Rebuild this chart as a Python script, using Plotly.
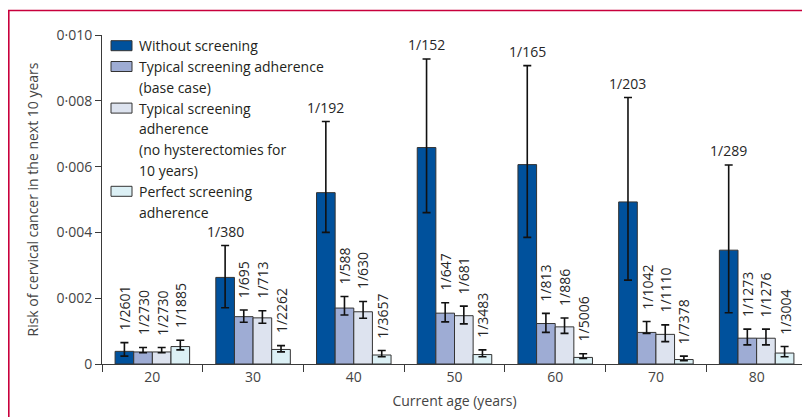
import plotly.graph_objects as go

# ---------------- data ----------------
ages = ["20", "30", "40", "50", "60", "70", "80"]
series_names = [
    "Without screening",
    "Typical screening adherence (base case)",
    "Typical screening adherence (no hysterectomies for 10 years)",
    "Perfect screening adherence",
]
# risk shown as 1/N (labels on the chart)
denom_without = [2601, 380, 192, 152, 165, 203, 289]
denom_base = [2730, 695, 588, 647, 813, 1042, 1273]
denom_nohyst = [2730, 713, 630, 681, 886, 1110, 1276]
denom_perfect = [1885, 2262, 3657, 3483, 5006, 7378, 3004]

# error bar bounds (lower, upper)
low_without = [0.00024, 0.00171, 0.0040, 0.0046, 0.00385, 0.00255, 0.00156]
up_without = [0.00065, 0.0036, 0.00737, 0.00927, 0.00907, 0.0081, 0.00605]
low_base = [0.00034, 0.00127, 0.00149, 0.00128, 0.00096, 0.00093, 0.00058]
up_base = [0.00050, 0.00164, 0.00205, 0.00186, 0.00154, 0.00129, 0.00106]
low_nohyst = [0.00034, 0.00124, 0.00139, 0.00122, 0.00093, 0.00068, 0.00058]
up_nohyst = [0.00050, 0.00162, 0.00190, 0.00176, 0.00140, 0.00119, 0.00106]
low_perfect = [0.00043, 0.00037, 0.00022, 0.00022, 0.00017, 0.00010, 0.00022]
up_perfect = [0.00072, 0.00056, 0.00041, 0.00043, 0.00031, 0.00024, 0.00053]

y_tickvals = [0, 0.002, 0.004, 0.006, 0.008, 0.010]
y_ticktext = ["0", "0·002", "0·004", "0·006", "0·008", "0·010"]

legend_lines = [
    ["Without screening"],
    ["Typical screening adherence", "(base case)"],
    ["Typical screening", "adherence", "(no hysterectomies for", "10 years)"],
    ["Perfect screening", "adherence"],
]

# ---------------- style ----------------
colors = ["#00519c", "#9eacd4", "#dde3ef", "#dcf0f5"]
outline = "#333333"
FONT = "Open Sans"
FS = 14
OFF = 8                      # default body margin of the html page
PL, PR, PT, PB = 102, 807, 35, 364   # plot area in page pixels
W, H = 810 - OFF, 417 - OFF
ML = PL - OFF
MT = PT - OFF
MR = W - (PR - OFF)
MB = H - (PB - OFF)
BARGAP = 0.26

denoms = [denom_without, denom_base, denom_nohyst, denom_perfect]
lows = [low_without, low_base, low_nohyst, low_perfect]
ups = [up_without, up_base, up_nohyst, up_perfect]

fig = go.Figure()
for k in range(4):
    vals = [1.0 / d for d in denoms[k]]
    fig.add_trace(go.Bar(
        x=ages, y=vals, name=series_names[k],
        marker=dict(color=colors[k], line=dict(color=outline, width=1)),
        error_y=dict(type="data", symmetric=False,
                     array=[u - v for u, v in zip(ups[k], vals)],
                     arrayminus=[v - l for l, v in zip(lows[k], vals)],
                     color="#111111", thickness=1.6, width=4),
        showlegend=False,
    ))

# bar value labels
bw = (1 - BARGAP) / 4
offsets = [-1.5 * bw, -0.5 * bw, 0.5 * bw, 1.5 * bw]
for k in range(4):
    for i, d in enumerate(denoms[k]):
        horizontal = (k == 0 and i > 0)
        fig.add_annotation(
            x=i + offsets[k], y=ups[k][i], xref="x", yref="y",
            text=f"1/{d}", showarrow=False,
            textangle=0 if horizontal else -90,
            xanchor="center", yanchor="bottom",
            yshift=3 if horizontal else 10,
            font=dict(family=FONT, size=FS, color="#262626"),
        )

def px_x(px):
    return (px - PL) / (PR - PL)
def px_y(py):
    return (PB - py) / (PB - PT)

# manual legend (page pixel positions)
line_h = 20.8
y0 = 45.7
li = 0
for k, lines in enumerate(legend_lines):
    yc = y0 + li * line_h
    fig.add_shape(type="rect", xref="paper", yref="paper",
                  x0=px_x(111), x1=px_x(132), y0=px_y(yc - 5), y1=px_y(yc + 5),
                  fillcolor=colors[k], line=dict(color=outline, width=1))
    for t in lines:
        yc = y0 + li * line_h
        fig.add_annotation(x=px_x(137), y=px_y(yc), xref="paper", yref="paper",
                           text=t, showarrow=False, xanchor="left", yanchor="middle",
                           font=dict(family=FONT, size=FS, color="#231f20"))
        li += 1

# pink frame
fig.add_shape(type="rect", xref="paper", yref="paper",
              x0=px_x(8.8), x1=px_x(840), y0=px_y(460), y1=px_y(10.5),
              line=dict(color="#c8003c", width=1.6), fillcolor="rgba(0,0,0,0)")

axis_col = "#3a3a3a"
fig.update_layout(
    width=W, height=H, autosize=False,
    margin=dict(l=ML, r=MR, t=MT, b=MB),
    paper_bgcolor="white", plot_bgcolor="white",
    barmode="group", bargap=BARGAP, bargroupgap=0,
    font=dict(family=FONT, size=FS, color="#3c3c3c"),
    xaxis=dict(type="category", showline=True, linecolor=axis_col, linewidth=1,
               ticks="outside", tickson="boundaries", ticklen=7, tickcolor=axis_col,
               tickfont=dict(family=FONT, size=FS, color="#444444"),
               title=dict(text="Current age (years)", standoff=11,
                          font=dict(family=FONT, size=FS, color="#444444")),
               showgrid=False, zeroline=False),
    yaxis=dict(range=[0, 0.010], tickvals=y_tickvals, ticktext=y_ticktext,
               showline=True, linecolor=axis_col, linewidth=1,
               ticks="outside", ticklen=6, tickcolor=axis_col,
               tickfont=dict(family=FONT, size=FS, color="#444444"),
               title=dict(text="Risk of cervical cancer in the next 10 years", standoff=14,
                          font=dict(family=FONT, size=FS, color="#444444")),
               showgrid=False, zeroline=False),
)

fig.write_html("out.html")
